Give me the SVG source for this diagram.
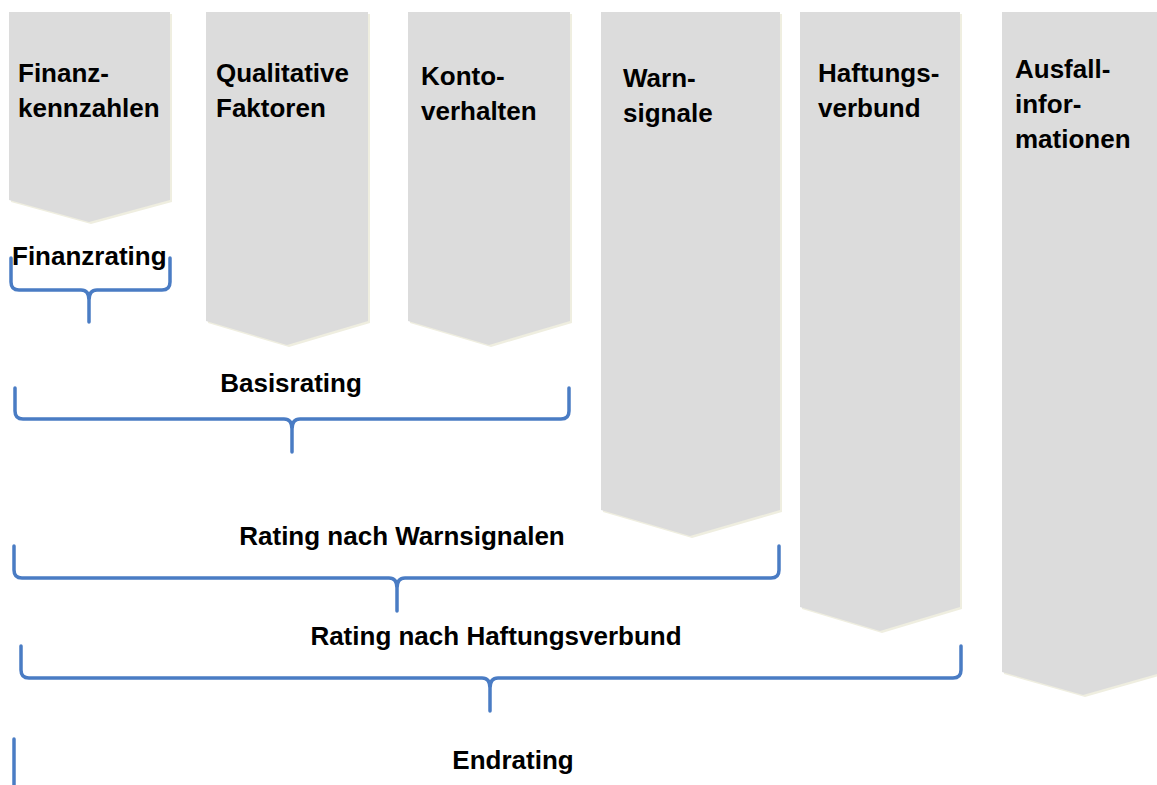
<svg xmlns="http://www.w3.org/2000/svg" width="1157" height="785" viewBox="0 0 1157 785">
<style>
.col{fill:#dcdcdc}
.sh{fill:#efeee0}
.t{font-family:"Liberation Sans",Arial,sans-serif;font-weight:bold;font-size:26px;fill:#000}
.m{text-anchor:middle}
.br{fill:none;stroke:#4a7cc4;stroke-width:3.5;stroke-linecap:round;stroke-linejoin:round}
</style>
<rect width="1157" height="785" fill="#fff"/>
<g id="col-finanzkennzahlen">
<polygon class="sh" points="11,14 172,14 172,202 91,224 11,202"/>
<polygon class="col" points="9,12 170,12 170,200 89,222 9,200"/>
<text class="t" x="18" y="82">Finanz-</text>
<text class="t" x="18" y="117">kennzahlen</text>
</g>
<g id="col-qualitative">
<polygon class="sh" points="208,14 370,14 370,323 289,347 208,323"/>
<polygon class="col" points="206,12 368,12 368,321 287,345 206,321"/>
<text class="t" x="216" y="82">Qualitative</text>
<text class="t" x="216" y="117">Faktoren</text>
</g>
<g id="col-konto">
<polygon class="sh" points="410,14 572,14 572,323 491,347 410,323"/>
<polygon class="col" points="408,12 570,12 570,321 489,345 408,321"/>
<text class="t" x="421" y="85">Konto-</text>
<text class="t" x="421" y="120">verhalten</text>
</g>
<g id="col-warnsignale">
<polygon class="sh" points="603,14 782,14 782,512 692,538 603,512"/>
<polygon class="col" points="601,12 780,12 780,510 690,536 601,510"/>
<text class="t" x="623" y="87">Warn-</text>
<text class="t" x="623" y="122">signale</text>
</g>
<g id="col-haftungsverbund">
<polygon class="sh" points="802,14 962,14 962,609 882,633 802,609"/>
<polygon class="col" points="800,12 960,12 960,607 880,631 800,607"/>
<text class="t" x="818" y="82">Haftungs-</text>
<text class="t" x="818" y="117">verbund</text>
</g>
<g id="col-ausfall">
<polygon class="sh" points="1004,14 1166,14 1166,674 1085,697 1004,674"/>
<polygon class="col" points="1002,12 1164,12 1164,672 1083,695 1002,672"/>
<text class="t" x="1015" y="78">Ausfall-</text>
<text class="t" x="1015" y="113">infor-</text>
<text class="t" x="1015" y="148">mationen</text>
</g>
<g id="connectors">
<path class="br" d="M11,258 V282 Q11,290 19,290 H81 Q89,290 89,300 V322 M170,258 V282 Q170,290 162,290 H97 Q89,290 89,300"/>
<path class="br" d="M15,388 V411 Q15,419 23,419 H284 Q292,419 292,429 V452 M569,388 V411 Q569,419 561,419 H300 Q292,419 292,429"/>
<path class="br" d="M14,546 V570 Q14,578 22,578 H389 Q397,578 397,588 V611 M779,546 V570 Q779,578 771,578 H405 Q397,578 397,588"/>
<path class="br" d="M21,646 V670 Q21,678 29,678 H482 Q490,678 490,688 V711 M961,646 V670 Q961,678 953,678 H498 Q490,678 490,688"/>
<path class="br" d="M14,739 V790"/>
</g>
<g id="labels">
<text class="t" x="12" y="265">Finanzrating</text>
<text class="t m" x="291" y="392">Basisrating</text>
<text class="t m" x="402" y="545">Rating nach Warnsignalen</text>
<text class="t m" x="496" y="645">Rating nach Haftungsverbund</text>
<text class="t m" x="513" y="769">Endrating</text>
</g>
</svg>
